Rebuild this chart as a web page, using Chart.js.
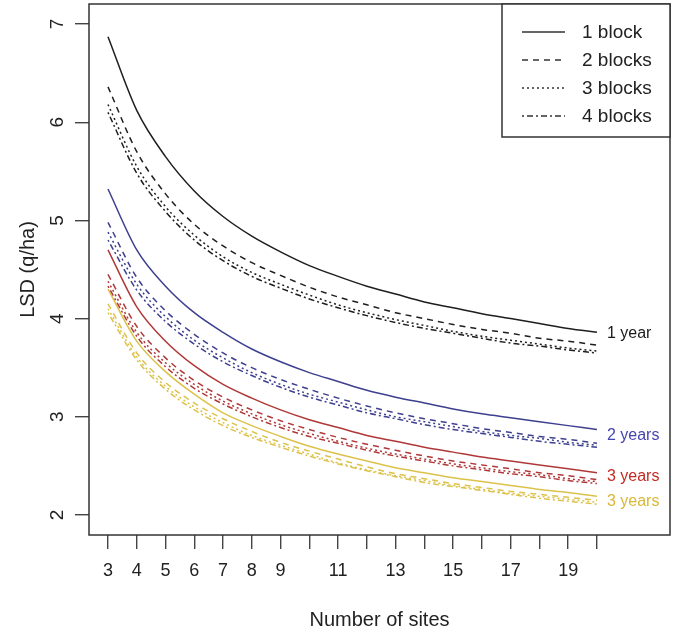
<!DOCTYPE html>
<html>
<head>
<meta charset="utf-8">
<script src="https://cdn.jsdelivr.net/npm/chart.js@4.4.1/dist/chart.umd.min.js"></script>
<style>
  html, body { margin: 0; padding: 0; background: #fff; }
  #wrap { width: 677px; height: 635px; position: relative; }
</style>
</head>
<body>
<div id="wrap"><canvas id="lsd"></canvas></div>
<script>
const sites = [3, 4, 5, 6, 7, 8, 9, 10, 11, 12, 13, 14, 15, 16, 17, 18, 19, 20]
const xTickLabels = [3, 4, 5, 6, 7, 8, 9, 11, 13, 15, 17, 19]
const yTicks = [2, 3, 4, 5, 6, 7]

// LSD (q/ha) by number of sites, one array per years x blocks combination
const year1Block1 = [6.87, 6.12, 5.65, 5.30, 5.04, 4.84, 4.68, 4.54, 4.43, 4.33, 4.25, 4.17, 4.11, 4.05, 4.00, 3.95, 3.90, 3.86]
const year1Block2 = [6.36, 5.70, 5.27, 4.96, 4.74, 4.57, 4.44, 4.32, 4.22, 4.14, 4.06, 4.00, 3.94, 3.89, 3.85, 3.80, 3.77, 3.73]
const year1Block3 = [6.18, 5.55, 5.14, 4.85, 4.63, 4.47, 4.35, 4.24, 4.14, 4.06, 3.99, 3.93, 3.87, 3.82, 3.78, 3.74, 3.70, 3.67]
const year1Block4 = [6.10, 5.48, 5.09, 4.80, 4.59, 4.43, 4.31, 4.20, 4.11, 4.03, 3.96, 3.90, 3.85, 3.80, 3.75, 3.72, 3.68, 3.65]

const year2Block1 = [5.32, 4.70, 4.33, 4.06, 3.86, 3.69, 3.56, 3.45, 3.36, 3.27, 3.20, 3.14, 3.08, 3.03, 2.99, 2.95, 2.91, 2.87]
const year2Block2 = [4.98, 4.42, 4.08, 3.84, 3.65, 3.50, 3.38, 3.28, 3.19, 3.11, 3.04, 2.98, 2.93, 2.88, 2.84, 2.80, 2.77, 2.73]
const year2Block3 = [4.88, 4.35, 4.02, 3.78, 3.60, 3.45, 3.33, 3.23, 3.15, 3.07, 3.00, 2.95, 2.90, 2.85, 2.81, 2.78, 2.74, 2.71]
const year2Block4 = [4.80, 4.29, 3.97, 3.74, 3.56, 3.42, 3.30, 3.20, 3.12, 3.04, 2.98, 2.92, 2.87, 2.83, 2.79, 2.75, 2.72, 2.69]

const year3Block1 = [4.70, 4.12, 3.77, 3.52, 3.33, 3.19, 3.07, 2.97, 2.89, 2.81, 2.75, 2.69, 2.64, 2.59, 2.55, 2.51, 2.47, 2.43]
const year3Block2 = [4.45, 3.92, 3.60, 3.37, 3.20, 3.07, 2.96, 2.87, 2.79, 2.72, 2.66, 2.60, 2.55, 2.51, 2.47, 2.43, 2.40, 2.36]
const year3Block3 = [4.38, 3.86, 3.55, 3.33, 3.16, 3.03, 2.92, 2.83, 2.75, 2.68, 2.62, 2.57, 2.52, 2.48, 2.44, 2.41, 2.37, 2.34]
const year3Block4 = [4.33, 3.82, 3.51, 3.29, 3.13, 3.00, 2.89, 2.80, 2.73, 2.66, 2.60, 2.55, 2.50, 2.46, 2.42, 2.39, 2.35, 2.32]

const year3bBlock1 = [4.30, 3.77, 3.46, 3.23, 3.04, 2.91, 2.80, 2.70, 2.62, 2.55, 2.48, 2.43, 2.38, 2.34, 2.30, 2.26, 2.23, 2.19]
const year3bBlock2 = [4.15, 3.65, 3.35, 3.14, 2.98, 2.85, 2.74, 2.65, 2.57, 2.49, 2.42, 2.37, 2.32, 2.28, 2.24, 2.21, 2.18, 2.15]
const year3bBlock3 = [4.10, 3.61, 3.31, 3.10, 2.94, 2.81, 2.71, 2.62, 2.53, 2.46, 2.40, 2.35, 2.30, 2.26, 2.22, 2.19, 2.16, 2.13]
const year3bBlock4 = [4.06, 3.58, 3.28, 3.07, 2.91, 2.79, 2.69, 2.60, 2.52, 2.45, 2.39, 2.33, 2.29, 2.25, 2.21, 2.17, 2.14, 2.11]

const blockNames = ["1 block", "2 blocks", "3 blocks", "4 blocks"]
const yearNames = ["1 year", "2 years", "3 years", "3 years"]
const lineColors = ["#1e1e1e", "#3d3f8f", "#b03838", "#dcc24a"]
const labelColors = ["#1a1a1a", "#4545b0", "#c42a24", "#d9b838"]
const blockDash = [[], [6, 5], [2, 3], [2, 3, 6, 3]]

const groups = [
  [year1Block1, year1Block2, year1Block3, year1Block4],
  [year2Block1, year2Block2, year2Block3, year2Block4],
  [year3Block1, year3Block2, year3Block3, year3Block4],
  [year3bBlock1, year3bBlock2, year3bBlock3, year3bBlock4]
]

const datasets = []
groups.forEach((series, g) => {
  series.forEach((vals, b) => {
    datasets.push({
      label: yearNames[g] + ", " + blockNames[b],
      data: sites.map((s, i) => ({ x: s, y: vals[i] })),
      borderColor: lineColors[g],
      borderWidth: 1.5,
      borderDash: blockDash[b],
      pointRadius: 0,
      fill: false,
      cubicInterpolationMode: "monotone"
    })
  })
})

const FONT = '"Liberation Sans", Arial, Helvetica, sans-serif'

// box, rotated y labels, end-of-curve labels and the legend
const framePlugin = {
  id: "frame",
  afterDraw(chart) {
    const { ctx, chartArea: a, scales: { x, y } } = chart
    ctx.save()
    ctx.strokeStyle = "#333"
    ctx.lineWidth = 1.5
    ctx.setLineDash([])
    ctx.strokeRect(a.left, a.top, a.right - a.left, a.bottom - a.top)

    ctx.fillStyle = "#222"
    ctx.font = "19px " + FONT
    ctx.textAlign = "center"
    ctx.textBaseline = "middle"
    yTicks.forEach(v => {
      ctx.save()
      ctx.translate(a.left - 31, y.getPixelForValue(v))
      ctx.rotate(-Math.PI / 2)
      ctx.fillText(String(v), 0, 0)
      ctx.restore()
    })

    // curve labels at the right end
    ctx.font = "16px " + FONT
    ctx.textAlign = "left"
    const xEnd = x.getPixelForValue(sites[sites.length - 1]) + 10
    const offsets = [1, 6, 4, 5]
    groups.forEach((series, g) => {
      const last = series[0][series[0].length - 1]
      ctx.fillStyle = labelColors[g]
      ctx.fillText(yearNames[g], xEnd, y.getPixelForValue(last) + offsets[g])
    })

    // legend box in the top-right corner
    const lw = 168, lh = 133
    const lx = a.right - lw, ly = a.top
    ctx.fillStyle = "#fff"
    ctx.fillRect(lx, ly, lw, lh)
    ctx.strokeStyle = "#333"
    ctx.lineWidth = 1.5
    ctx.strokeRect(lx, ly, lw, lh)
    ctx.font = "19px " + FONT
    blockNames.forEach((name, i) => {
      const ry = ly + 28 + i * 28
      ctx.strokeStyle = "#333"
      ctx.lineWidth = 1.4
      ctx.setLineDash(blockDash[i])
      ctx.beginPath()
      ctx.moveTo(lx + 20, ry)
      ctx.lineTo(lx + 63, ry)
      ctx.stroke()
      ctx.setLineDash([])
      ctx.fillStyle = "#222"
      ctx.fillText(name, lx + 80, ry + 1)
    })
    ctx.restore()
  }
}

new Chart(document.getElementById("lsd"), {
  type: "line",
  data: { datasets },
  plugins: [framePlugin],
  options: {
    responsive: true,
    maintainAspectRatio: false,
    animation: false,
    layout: { padding: { left: 0, top: 4, right: 7, bottom: 0 } },
    plugins: {
      legend: { display: false },
      tooltip: { enabled: false }
    },
    scales: {
      x: {
        type: "linear",
        min: 2.34,
        max: 22.54,
        afterBuildTicks: scale => { scale.ticks = sites.map(v => ({ value: v })) },
        afterFit: scale => { scale.height = 100 },
        border: { display: false },
        grid: { drawOnChartArea: false, drawTicks: true, tickLength: 14, color: "#444", lineWidth: 1.4 },
        ticks: {
          autoSkip: false,
          maxRotation: 0,
          padding: 11,
          color: "#222",
          font: { family: FONT, size: 18 },
          callback: v => xTickLabels.includes(v) ? String(v) : ""
        },
        title: {
          display: true,
          text: "Number of sites",
          color: "#222",
          font: { family: FONT, size: 20 },
          padding: { top: 0, bottom: 3 }
        }
      },
      y: {
        type: "linear",
        min: 1.796,
        max: 7.204,
        afterBuildTicks: scale => { scale.ticks = yTicks.map(v => ({ value: v })) },
        afterFit: scale => { scale.width = 89 },
        border: { display: false },
        grid: { drawOnChartArea: false, drawTicks: true, tickLength: 14, color: "#444", lineWidth: 1.4 },
        ticks: { display: false },
        title: {
          display: true,
          text: "LSD (q/ha)",
          color: "#222",
          font: { family: FONT, size: 20 },
          padding: { top: 16, bottom: 0 }
        }
      }
    }
  }
})
</script>
</body>
</html>
